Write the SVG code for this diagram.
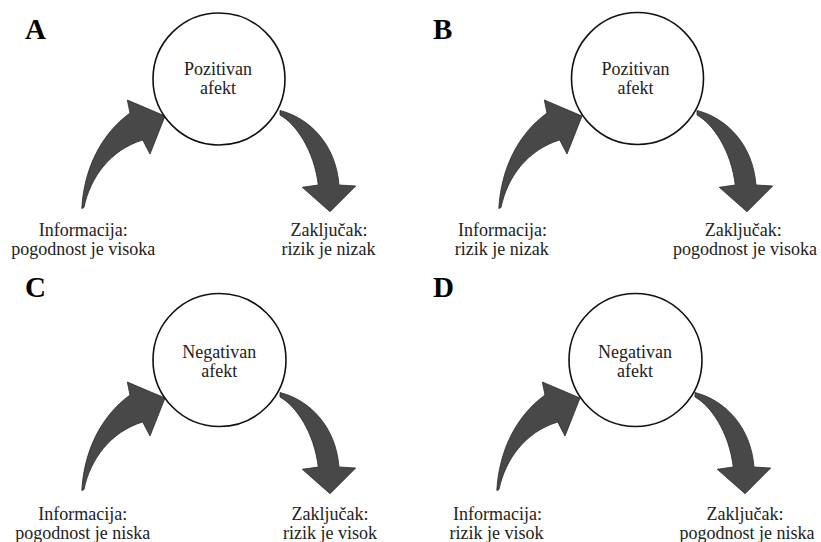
<svg xmlns="http://www.w3.org/2000/svg" xmlns:xlink="http://www.w3.org/1999/xlink" width="821" height="542" viewBox="0 0 821 542">
  <style>
    .bg { fill: #ffffff; }
    .circle { fill: #ffffff; stroke: #111111; stroke-width: 1.6; }
    .txt { font-family: 'Liberation Serif', 'DejaVu Serif', serif; font-size: 18px; fill: #222222; text-anchor: middle; }
    .panel { font-family: 'Liberation Serif', 'DejaVu Serif', serif; font-size: 29px; font-weight: bold; fill: #000000; }
    .arrow { fill: #484848; stroke: #2a2a2a; stroke-width: 0.8; stroke-linejoin: miter; }
  </style>
  <defs>
    <path id="arrowIn" d="M81.8,208.5 C84,170 100,135 130,113 L127.3,100 L165,116 L150,154 L142.7,140 C110,150 90,178 84,207.5 Z"/>
    <path id="arrowOut" d="M280,110.5 C310,118 336,145 339,185 L355.7,186 L330,211.7 L302.3,187.3 L318.3,185 C314,150 296,124 280,115 Z"/>
  </defs>
  <rect class="bg" x="0" y="0" width="821" height="542"/>

  <g id="panel-labels">
    <text class="panel" font-family="Liberation Serif, serif" x="25" y="39">A</text>
    <text class="panel" font-family="Liberation Serif, serif" x="433" y="39">B</text>
    <text class="panel" font-family="Liberation Serif, serif" x="25" y="296.5">C</text>
    <text class="panel" font-family="Liberation Serif, serif" x="433" y="296.5">D</text>
  </g>

  <g id="connectors">
    <use class="arrow" xlink:href="#arrowIn" href="#arrowIn"/>
    <use class="arrow" xlink:href="#arrowOut" href="#arrowOut"/>
    <use class="arrow" xlink:href="#arrowIn" href="#arrowIn" transform="translate(417,0)"/>
    <use class="arrow" xlink:href="#arrowOut" href="#arrowOut" transform="translate(417,0)"/>
    <use class="arrow" xlink:href="#arrowIn" href="#arrowIn" transform="translate(0,282)"/>
    <use class="arrow" xlink:href="#arrowOut" href="#arrowOut" transform="translate(0,282)"/>
    <use class="arrow" xlink:href="#arrowIn" href="#arrowIn" transform="translate(415,282)"/>
    <use class="arrow" xlink:href="#arrowOut" href="#arrowOut" transform="translate(415,282)"/>
  </g>

  <!-- Panel A -->
  <g id="A-affect">
    <circle class="circle" cx="219" cy="79" r="66"/>
    <text class="txt" x="218" y="75">Pozitivan</text>
    <text class="txt" x="218" y="94">afekt</text>
  </g>
  <g id="A-info">
    <text class="txt" x="83.3" y="236">Informacija:</text>
    <text class="txt" x="83.3" y="255">pogodnost je visoka</text>
  </g>
  <g id="A-conclusion">
    <text class="txt" x="329" y="236">Zaključak:</text>
    <text class="txt" x="328.5" y="255">rizik je nizak</text>
  </g>

  <!-- Panel B -->
  <g id="B-affect">
    <circle class="circle" cx="637.5" cy="78.5" r="66"/>
    <text class="txt" x="635.5" y="75">Pozitivan</text>
    <text class="txt" x="635.5" y="94">afekt</text>
  </g>
  <g id="B-info">
    <text class="txt" x="502.5" y="236">Informacija:</text>
    <text class="txt" x="501.7" y="255">rizik je nizak</text>
  </g>
  <g id="B-conclusion">
    <text class="txt" x="743.3" y="236">Zaključak:</text>
    <text class="txt" x="745" y="255">pogodnost je visoka</text>
  </g>

  <!-- Panel C -->
  <g id="C-affect">
    <circle class="circle" cx="219.5" cy="360" r="66.5"/>
    <text class="txt" x="219.2" y="358">Negativan</text>
    <text class="txt" x="219.2" y="377">afekt</text>
  </g>
  <g id="C-info">
    <text class="txt" x="82.8" y="520">Informacija:</text>
    <text class="txt" x="82.8" y="538.5">pogodnost je niska</text>
  </g>
  <g id="C-conclusion">
    <text class="txt" x="330" y="520">Zaključak:</text>
    <text class="txt" x="330" y="538.5">rizik je visok</text>
  </g>

  <!-- Panel D -->
  <g id="D-affect">
    <circle class="circle" cx="635.5" cy="360" r="66.5"/>
    <text class="txt" x="635" y="358">Negativan</text>
    <text class="txt" x="635" y="377">afekt</text>
  </g>
  <g id="D-info">
    <text class="txt" x="497.5" y="520">Informacija:</text>
    <text class="txt" x="496.5" y="538.5">rizik je visok</text>
  </g>
  <g id="D-conclusion">
    <text class="txt" x="745" y="520">Zaključak:</text>
    <text class="txt" x="747" y="538.5">pogodnost je niska</text>
  </g>
</svg>
